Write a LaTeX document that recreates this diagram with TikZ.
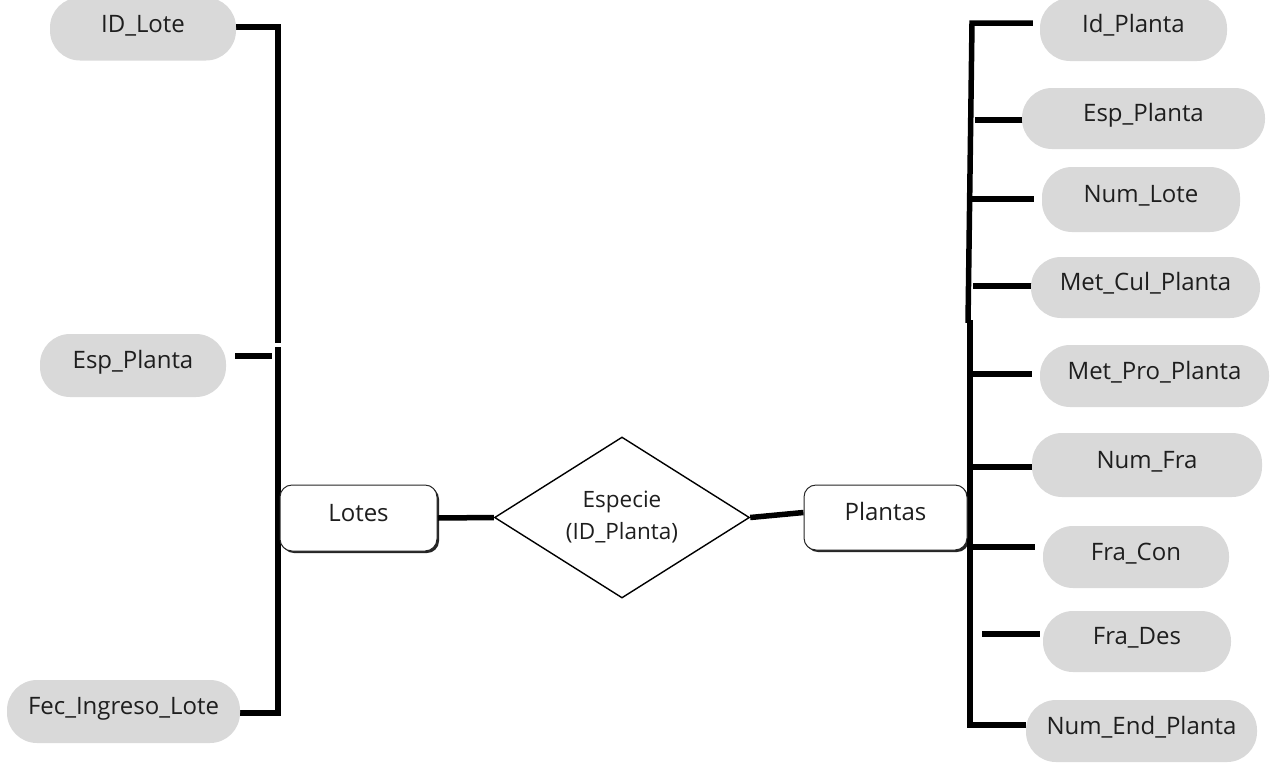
\documentclass[tikz,border=0pt]{standalone}
\usepackage{fontspec}
\setmainfont{Open Sans}
\usetikzlibrary{shapes.geometric,shadows,backgrounds}
\definecolor{pillgray}{HTML}{D9D9D9}
\definecolor{txt}{HTML}{1E1E1E}
\begin{document}
\begin{tikzpicture}[x=1pt,y=-1pt,
  pill/.style 2 args={rectangle, rounded corners=30pt, fill=pillgray, text=txt,
    font=\fontsize{24}{28}\selectfont, text height=17.5pt, text depth=11pt,
    inner sep=0pt, minimum width=#1, minimum height=#2},
  entity/.style 2 args={rectangle, rounded corners=12pt, draw=black!85, line width=1pt,
    fill=white, text=txt, font=\fontsize{24}{28}\selectfont, text height=17.5pt, text depth=11pt,
    inner sep=0pt, minimum width=#1, minimum height=#2,
    drop shadow={shadow xshift=2pt, shadow yshift=-2pt, fill=black, opacity=0.85}},
  relation/.style={diamond, draw=black, line width=1.4pt, fill=white, text=txt,
    font=\fontsize{22.5}{32}\selectfont, align=center, inner sep=0pt,
    minimum width=255pt, minimum height=161pt, aspect=1.58},
  conn/.style={line width=5.5pt, draw=black, line join=miter}
]
\useasboundingbox (0,0) rectangle (1280,764);

% left attributes
\node[pill={186pt}{63pt}] (l1) at (143,29) {ID\_Lote};
\node[pill={186pt}{63pt}] (l2) at (133,365.5) {Esp\_Planta};
\node[pill={233pt}{63pt}] (l3) at (123.5,711.5) {Fec\_Ingreso\_Lote};

% right attributes
\node[pill={187pt}{63pt}] (r1) at (1133.5,29.5) {Id\_Planta};
\node[pill={243pt}{61pt}] (r2) at (1143.5,118.5) {Esp\_Planta};
\node[pill={198pt}{65pt}] (r3) at (1141,199.5) {Num\_Lote};
\node[pill={229pt}{61pt}] (r4) at (1145.5,287.5) {Met\_Cul\_Planta};
\node[pill={229pt}{62pt}] (r5) at (1154.5,376) {Met\_Pro\_Planta};
\node[pill={230pt}{64pt}] (r6) at (1147,465) {Num\_Fra};
\node[pill={186pt}{62pt}] (r7) at (1136,557) {Fra\_Con};
\node[pill={188pt}{61pt}] (r8) at (1137,641.5) {Fra\_Des};
\node[pill={231pt}{62pt}] (r9) at (1141.5,731) {Num\_End\_Planta};

% entities and relation
\node[entity={157pt}{66pt}] (lotes) at (358.5,518) {Lotes};
\node[entity={163pt}{65pt}] (plantas) at (885.5,517.5) {Plantas};
\node[relation] (rel) at (622,517.5) {Especie\\(ID\_Planta)};

% bus coordinates
\coordinate (lb1) at (278,27);
\coordinate (lb2) at (278,343);
\coordinate (lb3) at (278,347);
\coordinate (lb4) at (278,713);
\coordinate (ls2) at (278,356);

\coordinate (rb1) at (972,23);
\coordinate (rb2) at (968,323);
\coordinate (rb3) at (970,320);
\coordinate (s2) at (970,120);
\coordinate (s3) at (970,199);
\coordinate (s4) at (970,286);
\coordinate (s5) at (970,374);
\coordinate (s6) at (970,467);
\coordinate (s7) at (970,547);
\coordinate (s8) at (970,634);
\coordinate (s9) at (970,725);

\begin{scope}[on background layer]
  % left side
  \draw[conn] (l1.east |- lb1) -- (lb1) -- (lb2);
  \draw[conn, shorten <=9pt, shorten >=6pt] (l2.east |- ls2) -- (ls2);
  \draw[conn] (l3.east |- lb4) -- (lb4) -- (lb3);
  % right side
  \draw[conn, shorten <=7pt] (r1.west |- rb1) -- (rb1) -- (rb2);
  \draw[conn] (rb3) -- (s9) -- (s9 -| r9.west);
  \draw[conn, shorten <=5pt, shorten >=-11pt] (s2) -- (s2 -| r2.west);
  \draw[conn, shorten >=8pt] (s3) -- (s3 -| r3.west);
  \draw[conn, shorten <=3pt, shorten >=-2pt] (s4) -- (s4 -| r4.west);
  \draw[conn, shorten >=8pt] (s5) -- (s5 -| r5.west);
  \draw[conn, shorten >=-2pt] (s6) -- (s6 -| r6.west);
  \draw[conn, shorten >=8pt] (s7) -- (s7 -| r7.west);
  \draw[conn, shorten <=12pt, shorten >=3pt] (s8) -- (s8 -| r8.west);
  % relation links
  \draw[conn] (lotes.east) -- (rel.west);
  \draw[conn] (rel.east) -- ([yshift=5pt]plantas.west);
\end{scope}
\end{tikzpicture}
\end{document}
